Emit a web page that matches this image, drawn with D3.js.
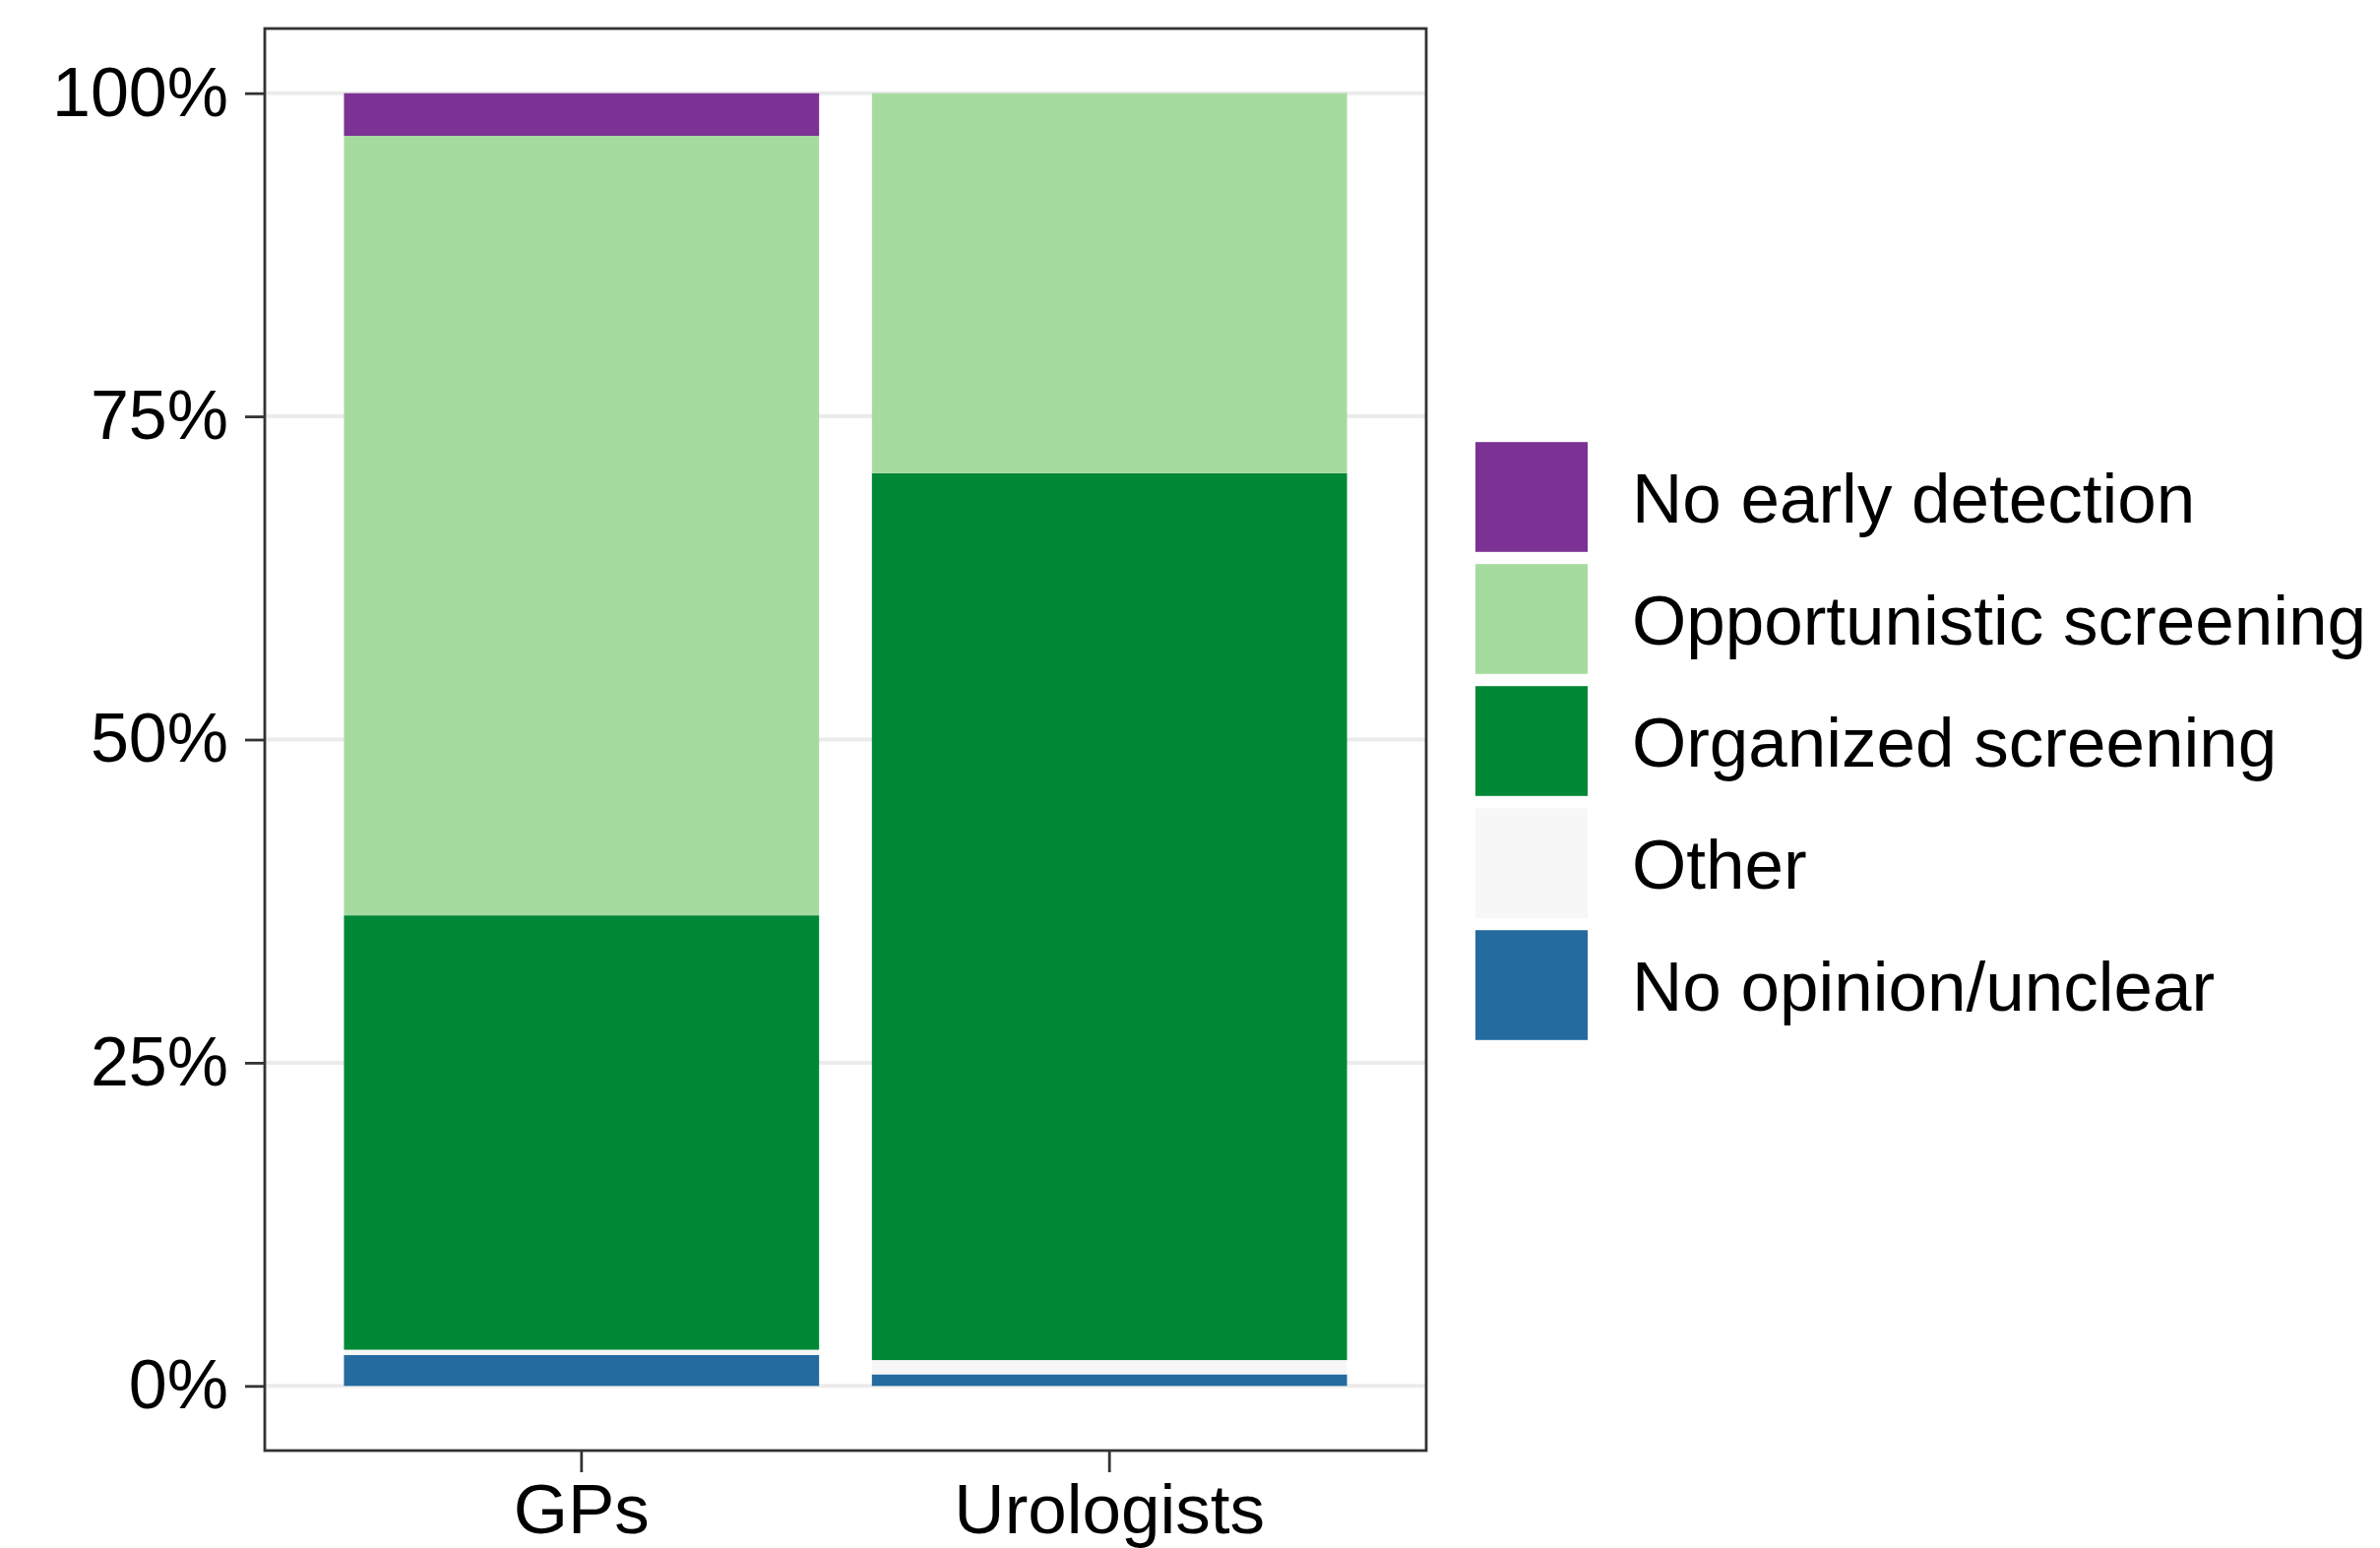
<!DOCTYPE html>
<html><head><meta charset="utf-8">
<script src="https://cdn.jsdelivr.net/npm/d3@7"></script>
<style>html,body{margin:0;padding:0;background:#fff;}svg{display:block;}</style>
</head><body>
<script>
const groups = ["GPs", "Urologists"];
const categories = ["No early detection", "Opportunistic screening", "Organized screening", "Other", "No opinion/unclear"];
const colors = ["#7b3294", "#a6dba0", "#008837", "#f7f7f7", "#246b9f"];
// values in percent, per category (same order as categories), for each group
const gpValues = [3.3, 60.3, 33.6, 0.4, 2.4];
const uroValues = [0.0, 29.4, 68.6, 1.1, 0.9];
const yTicks = [0, 0.25, 0.5, 0.75, 1];
const yTickLabels = ["0%", "25%", "50%", "75%", "100%"];

const W = 2418, H = 1573;
const panel = {left: 269, right: 1449, top: 29, bottom: 1474};
const font = "'Liberation Sans', Arial, Helvetica, sans-serif";

const svg = d3.select("body").append("svg").attr("width", W).attr("height", H);

const x = d3.scaleBand().domain(groups).range([panel.left, panel.right]).paddingInner(0.1).paddingOuter(0.15);
const y = d3.scaleLinear().domain([-0.05, 1.05]).range([panel.bottom, panel.top]);

// gridlines
svg.append("g").selectAll("line").data(yTicks).join("line")
  .attr("x1", panel.left).attr("x2", panel.right)
  .attr("y1", d => y(d)).attr("y2", d => y(d))
  .attr("stroke", "#ebebeb").attr("stroke-width", 4);

// stacking: last category at bottom
const rows = groups.map((g, i) => {
  const vals = i === 0 ? gpValues : uroValues;
  const r = {group: g};
  categories.forEach((c, j) => r[c] = vals[j] / 100);
  return r;
});
const stackKeys = categories.slice().reverse();
const series = d3.stack().keys(stackKeys)(rows);

svg.append("g").selectAll("g").data(series).join("g")
  .attr("fill", s => colors[categories.indexOf(s.key)])
  .selectAll("rect").data(s => s).join("rect")
  .attr("x", d => x(d.data.group))
  .attr("width", x.bandwidth())
  .attr("y", d => y(d[1]))
  .attr("height", d => Math.max(0, y(d[0]) - y(d[1])));

// panel border
svg.append("rect").attr("x", panel.left).attr("y", panel.top)
  .attr("width", panel.right - panel.left).attr("height", panel.bottom - panel.top)
  .attr("fill", "none").attr("stroke", "#333333").attr("stroke-width", 2.8);

// y axis
const yAxis = d3.axisLeft(y).tickValues(yTicks).tickFormat((d, i) => yTickLabels[i]).tickSize(20).tickPadding(17);
const gy = svg.append("g").attr("transform", `translate(${panel.left},0)`).call(yAxis);
gy.select(".domain").remove();
gy.selectAll(".tick line").attr("stroke", "#333333").attr("stroke-width", 2.8);
gy.selectAll(".tick text").attr("font-family", font).attr("font-size", 70).attr("fill", "#000");

// x axis
const xAxis = d3.axisBottom(x).tickSize(22).tickPadding(12);
const gx = svg.append("g").attr("transform", `translate(0,${panel.bottom})`).call(xAxis);
gx.select(".domain").remove();
gx.selectAll(".tick line").attr("stroke", "#333333").attr("stroke-width", 2.8);
gx.selectAll(".tick text").attr("font-family", font).attr("font-size", 71).attr("fill", "#000");

// legend
const legY = d3.scaleBand().domain(categories).range([443, 1063]).paddingInner(0.1).paddingOuter(0.05);
const leg = svg.append("g");
const items = leg.selectAll("g").data(categories).join("g")
  .attr("transform", d => `translate(1499,${legY(d)})`);
items.append("rect").attr("width", 114).attr("height", legY.bandwidth())
  .attr("fill", (d, i) => colors[i]);
items.append("text").attr("x", 159).attr("y", legY.bandwidth() / 2)
  .attr("dy", "0.36em")
  .attr("font-family", font).attr("font-size", 71).attr("fill", "#000")
  .text(d => d);
</script>
</body></html>
